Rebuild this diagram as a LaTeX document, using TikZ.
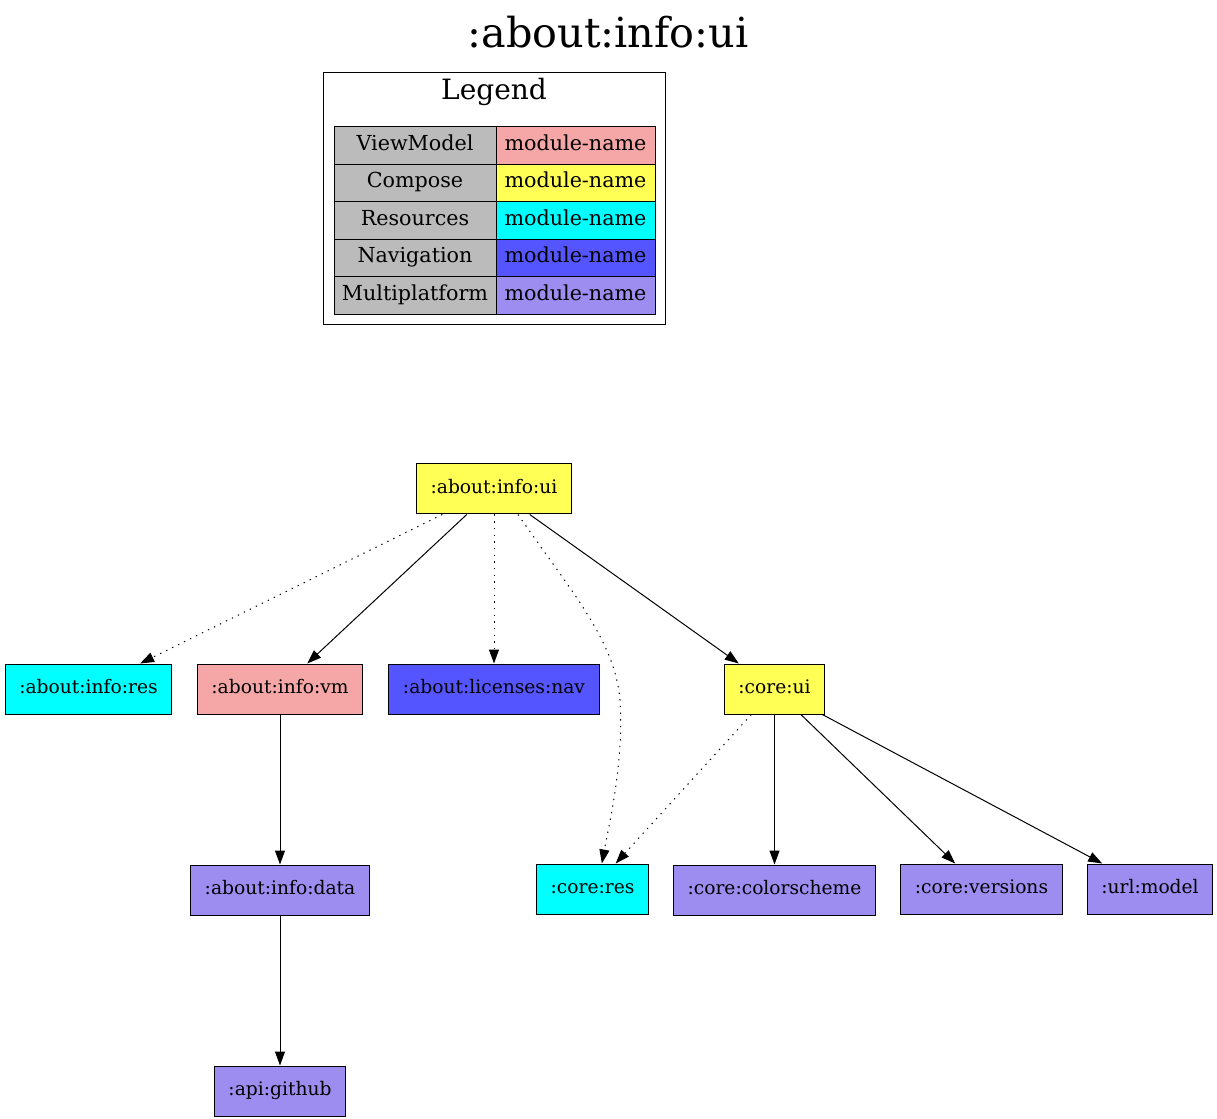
\documentclass[tikz,border=0pt]{standalone}
\usepackage{fontspec}
\setmainfont{DejaVu Serif}
\usetikzlibrary{positioning, arrows.meta}

\definecolor{vmpink}{RGB}{245,166,166}
\definecolor{cmpyellow}{RGB}{255,255,85}
\definecolor{rescyan}{RGB}{0,255,255}
\definecolor{navblue}{RGB}{85,85,255}
\definecolor{mplav}{RGB}{157,141,241}
\definecolor{kindgray}{RGB}{187,187,187}

\begin{document}
\begin{tikzpicture}[
    x=0.75pt, y=-0.75pt,
    every node/.style={font=\fontsize{14}{16}\selectfont},
    module/.style={draw, line width=0.75pt, minimum height=37.5pt, inner xsep=10.5pt,
        text height=10pt, text depth=3pt},
    cell/.style={draw, line width=0.75pt, minimum height=28.125pt, inner xsep=0pt,
        text height=11pt, text depth=3.5pt, font=\fontsize{15.5}{18}\selectfont},
    dep/.style={line width=0.75pt, -{Triangle[length=10.5pt, width=7.5pt]}},
    resdep/.style={dep, dash pattern=on 1pt off 4pt},
    node distance=112.5pt and 20pt]

		\useasboundingbox (0,0) rectangle (1217,1119);

		\node (title) at (608,32) {\fontsize{31}{36}\selectfont :about:info:ui};

		% legend box
		\node[draw, line width=0.75pt, minimum width=256.5pt, minimum height=189pt] (legend) at (494,199) {};
		\node (legendtitle) at (494,92) {\fontsize{21}{24}\selectfont Legend};
		\foreach \kind/\col [count=\i] in {ViewModel/vmpink, Compose/cmpyellow, Resources/rescyan, Navigation/navblue, Multiplatform/mplav} {
			\node[cell, fill=kindgray, minimum width=121.5pt] (kind\i) at (415,108+37.5*\i) {\kind};
			\node[cell, fill=\col, minimum width=119.25pt] (name\i) at (575.5,108+37.5*\i) {module-name};
		}

		% modules
		\node[module, fill=cmpyellow] (infoui) at (494,489) {:about:info:ui};
		\node[module, fill=rescyan] (infores) at (88.5,689) {:about:info:res};
		\node[module, fill=vmpink] (infovm) at (280,689) {:about:info:vm};
		\node[module, fill=navblue] (licnav) at (494,689) {:about:licenses:nav};
		\node[module, fill=cmpyellow] (coreui) at (774.5,689) {:core:ui};
		\node[module, fill=mplav, below=of infovm] (infodata) {:about:info:data};
		\node[module, fill=mplav, below=of infodata] (apigithub) {:api:github};
		\node[module, fill=rescyan] (coreres) at (592.5,889) {:core:res};
		\node[module, fill=mplav, below=of coreui] (corecolor) {:core:colorscheme};
		\node[module, fill=mplav] (coreversions) at (981.5,889) {:core:versions};
		\node[module, fill=mplav] (urlmodel) at (1150,889) {:url:model};

		% dependencies
		\draw[resdep] (infoui) -- (infores);
		\draw[dep] (infoui) -- (infovm);
		\draw[resdep] (infoui) -- (licnav);
		\draw[resdep] ([xshift=18pt]infoui.south) .. controls (570,590) and (615,640) .. (620,700)
			.. controls (624,760) and (610,820) .. ([xshift=7pt]coreres.north);
		\draw[dep] (infoui) -- (coreui);
		\draw[dep] (infovm) -- (infodata);
		\draw[dep] (infodata) -- (apigithub);
		\draw[resdep] (coreui) -- (coreres);
		\draw[dep] (coreui) -- (corecolor);
		\draw[dep] (coreui) -- (coreversions);
		\draw[dep] (coreui) -- (urlmodel);

\end{tikzpicture}
\end{document}
